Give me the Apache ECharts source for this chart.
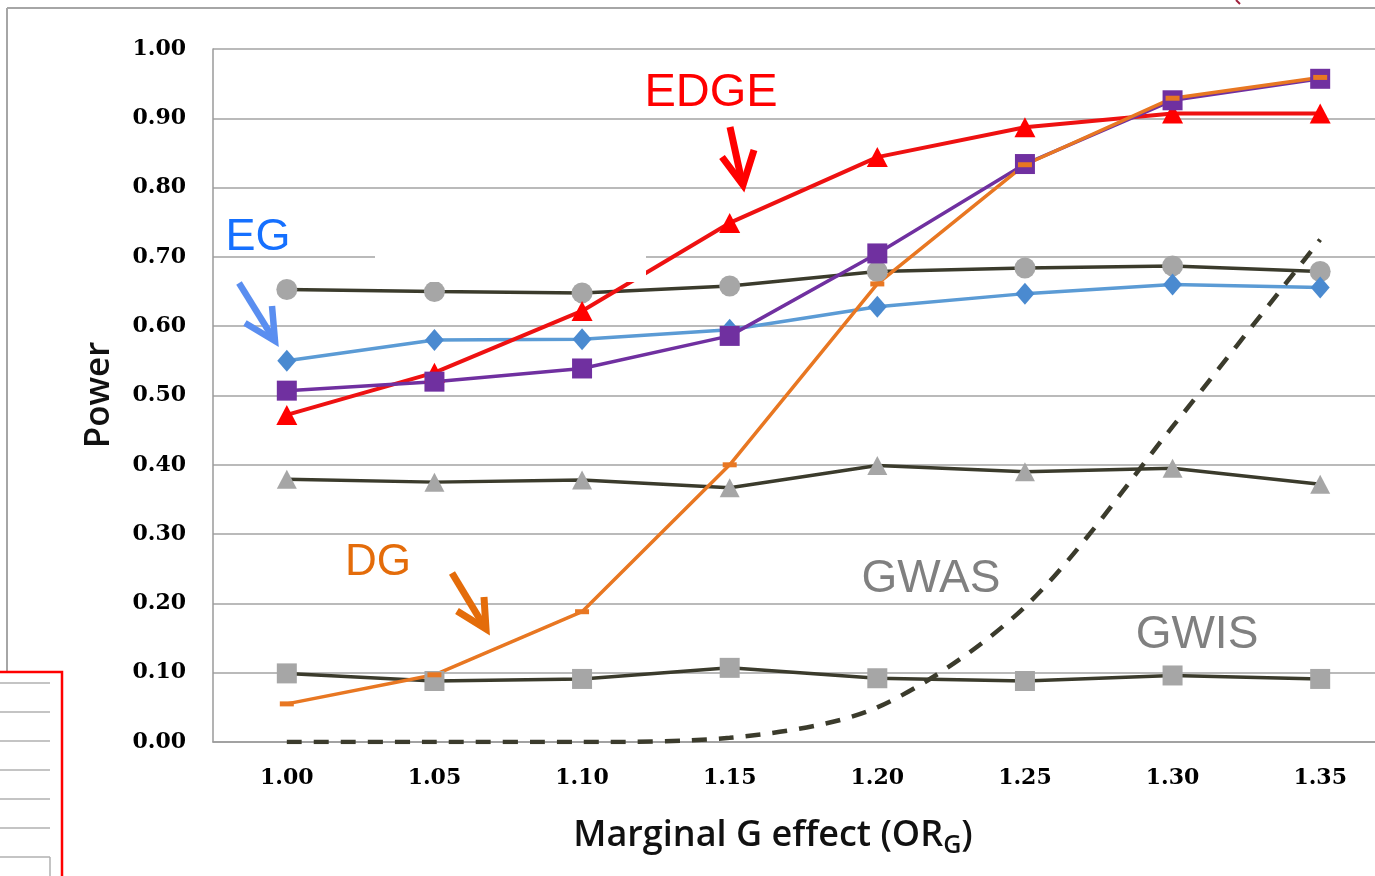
<!DOCTYPE html>
<html><head><meta charset="utf-8">
<script src="https://cdn.jsdelivr.net/npm/echarts@6/dist/echarts.min.js"></script>
<style>html,body{margin:0;padding:0;background:#fff}#c{width:1375px;height:876px}</style>
</head><body><div id="c"></div>
<script>
// ---- data ----
const categories = ['1.00','1.05','1.10','1.15','1.20','1.25','1.30','1.35'];
const yMin = 0, yMax = 1, yStep = 0.1;
const edge        = [0.472, 0.533, 0.622, 0.749, 0.844, 0.887, 0.907, 0.907];
const edgeAlt     = [0.507, 0.520, 0.539, 0.586, 0.705, 0.834, 0.926, 0.957];
const dg          = [0.055, 0.097, 0.188, 0.400, 0.661, 0.833, 0.929, 0.959];
const eg          = [0.550, 0.580, 0.581, 0.595, 0.628, 0.647, 0.660, 0.656];
const gwasCircle  = [0.653, 0.650, 0.648, 0.658, 0.679, 0.684, 0.687, 0.679];
const gwasTri     = [0.379, 0.375, 0.378, 0.367, 0.399, 0.390, 0.395, 0.372];
const gwisSquare  = [0.099, 0.088, 0.091, 0.107, 0.092, 0.088, 0.096, 0.091];
const gwasDashed  = [0, 0, 0, 0.006, 0.050, 0.195, 0.455, 0.725];

const chart = echarts.init(document.getElementById('c'), null, {renderer:'canvas'});
const dark = '#3b3b2c', grayM = '#a6a6a6';
function arrow(shaft, head, color, w){
  return [
    {type:'polyline', z:60, shape:{points:shaft}, style:{stroke:color, lineWidth:w, fill:null, lineCap:'butt'}},
    {type:'polyline', z:60, shape:{points:head}, style:{stroke:color, lineWidth:w, fill:null, lineJoin:'miter', lineCap:'butt'}}
  ];
}
const labelFont = 'Liberation Sans, Arial, sans-serif';
const option = {
  animation:false,
  backgroundColor:'#fff',
  grid:{left:213, width:1181, top:49, height:693, containLabel:false, outerBoundsMode:'none'},
  xAxis:{type:'category', data:categories, boundaryGap:true,
    axisLine:{show:true, lineStyle:{color:'#9a9a9a', width:1.5}},
    axisTick:{show:false},
    axisLabel:{color:'#000', fontFamily:'DejaVu Serif', fontWeight:'bold', fontSize:22, margin:25},
    splitLine:{show:false}},
  yAxis:{type:'value', min:yMin, max:yMax, interval:yStep,
    axisLine:{show:true, lineStyle:{color:'#9a9a9a', width:1.5}},
    axisTick:{show:false},
    axisLabel:{color:'#000', fontFamily:'DejaVu Serif', fontWeight:'bold', fontSize:22, margin:27, formatter:v=>v.toFixed(2)},
    splitLine:{show:true, lineStyle:{color:'#a3a3a3', width:1.5}}},
  series:[
    {type:'line', data:gwisSquare, symbol:'rect', symbolSize:20, lineStyle:{color:dark, width:3.5}, itemStyle:{color:grayM}},
    {type:'line', data:gwasTri, symbol:'triangle', symbolSize:[20,19], lineStyle:{color:dark, width:3.5}, itemStyle:{color:grayM}},
    {type:'line', data:gwasCircle, symbol:'circle', symbolSize:21, lineStyle:{color:dark, width:3.5}, itemStyle:{color:grayM}},
    {type:'line', data:eg, symbol:'diamond', symbolSize:[19,22], lineStyle:{color:'#5b9bd5', width:3.5}, itemStyle:{color:'#4a8ad0'}},
    {type:'line', data:edge, symbol:'triangle', symbolSize:[21,20], lineStyle:{color:'#ee1111', width:4}, itemStyle:{color:'#ff0000'}},
    {type:'line', data:edgeAlt, symbol:'rect', symbolSize:20, lineStyle:{color:'#7030a0', width:3.5}, itemStyle:{color:'#7030a0'}},
    {type:'line', data:dg, symbol:'rect', symbolSize:[14,5], lineStyle:{color:'#e87722', width:3.5}, itemStyle:{color:'#e87722'}},
    {type:'line', data:gwasDashed, symbol:'none', smooth:0.3, lineStyle:{color:dark, width:4.5, type:[15,12]}}
  ],
  graphic:{elements:[
    {type:'line', shape:{x1:7,y1:8,x2:1375,y2:8}, style:{stroke:'#a6a6a6', lineWidth:2}},
    {type:'line', shape:{x1:7,y1:8,x2:7,y2:672}, style:{stroke:'#a6a6a6', lineWidth:2}},
    {type:'rect', z:70, shape:{x:-5,y:672,width:67,height:215}, style:{fill:'#fff', stroke:'#ff0000', lineWidth:2.5}},
    ...[683,712,741,770,799,828,857].map(y=>({type:'line', z:71, shape:{x1:0,y1:y,x2:50,y2:y}, style:{stroke:'#b0b0b0', lineWidth:1.5}})),
    {type:'line', z:71, shape:{x1:50,y1:857,x2:50,y2:876}, style:{stroke:'#b0b0b0', lineWidth:1.5}},
    {type:'line', shape:{x1:1236,y1:0,x2:1240,y2:4}, style:{stroke:'#a0203c', lineWidth:2}},
    {type:'rect', z:50, shape:{x:375,y:232,width:271,height:50}, style:{fill:'#fff'}},
    {type:'text', z:60, x:711, y:93, style:{text:'EDGE', fill:'#ff0000', font:'47px '+labelFont, textAlign:'center', textVerticalAlign:'middle'}},
    {type:'text', z:60, x:258, y:238, style:{text:'EG', fill:'#1570ff', font:'45px '+labelFont, textAlign:'center', textVerticalAlign:'middle'}},
    {type:'text', z:60, x:378, y:563, style:{text:'DG', fill:'#e46c0a', font:'44px '+labelFont, textAlign:'center', textVerticalAlign:'middle'}},
    {type:'text', z:60, x:931, y:579, style:{text:'GWAS', fill:'#808080', font:'46px '+labelFont, textAlign:'center', textVerticalAlign:'middle'}},
    {type:'text', z:60, x:1197, y:635, style:{text:'GWIS', fill:'#808080', font:'46px '+labelFont, textAlign:'center', textVerticalAlign:'middle'}},
    ...arrow([[730,127],[742,182]], [[722,157],[743,185],[754,150]], '#ff0000', 7),
    ...arrow([[239,283],[273,338]], [[245,323],[275,341],[272,306]], '#5a8ef0', 6.5),
    ...arrow([[452,573],[484,626]], [[457,611],[486,629],[484,597]], '#e46c0a', 7),
    {type:'text', x:99, y:395, rotation:Math.PI/2, style:{text:'Power', fill:'#111', font:'600 35px "Open Sans"', textAlign:'center', textVerticalAlign:'middle'}},
    {type:'text', x:773, y:836, style:{
      text:'{a|Marginal G effect (OR}{s|G}{a|)}', textAlign:'center', textVerticalAlign:'middle',
      rich:{
        a:{fontSize:36, fontFamily:'Open Sans', fontWeight:600, fill:'#111', lineHeight:44, verticalAlign:'middle'},
        s:{fontSize:25, fontFamily:'Open Sans', fontWeight:600, fill:'#111', lineHeight:25, verticalAlign:'bottom'}
      }}}
  ]}
};
chart.setOption(option);
</script></body></html>
